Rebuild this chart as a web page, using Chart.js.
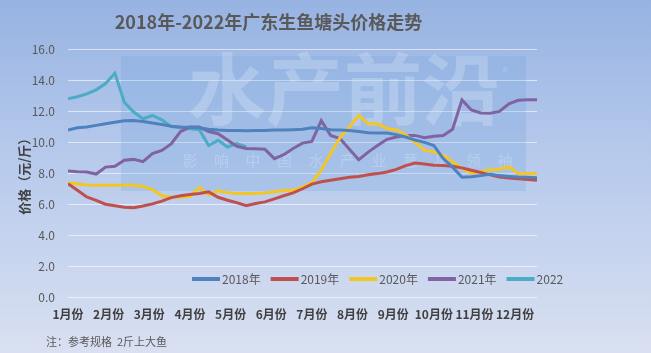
<!DOCTYPE html>
<html>
<head>
<meta charset="utf-8">
<script src="https://cdn.jsdelivr.net/npm/chart.js@4/dist/chart.umd.min.js"></script>
<style>
    html, body { margin: 0; padding: 0; }
    body {
        width: 651px; height: 353px; overflow: hidden;
        background: linear-gradient(to bottom, #97b3e2 0%, #b7caec 45%, #d9e0f1 100%);
    }
    #wrap { position: relative; width: 651px; height: 353px; }
</style>
</head>
<body>
<div id="wrap"><canvas id="priceChart" width="651" height="353"></canvas></div>
<script>
    // weekly prices, 元/斤
    const seriesNames = ['2018年', '2019年', '2020年', '2021年', '2022'];
    const monthLabels = ['1月份', '2月份', '3月份', '4月份', '5月份', '6月份',
                         '7月份', '8月份', '9月份', '10月份', '11月份', '12月份'];
    const yTicks = [0, 2, 4, 6, 8, 10, 12, 14, 16];

    const price2018 = [10.8, 10.95, 11.0, 11.1, 11.2, 11.3, 11.4, 11.42, 11.35, 11.25,
                       11.15, 11.05, 11.0, 10.98, 10.95, 10.85, 10.8, 10.77, 10.77, 10.75,
                       10.77, 10.77, 10.8, 10.8, 10.82, 10.85, 10.95, 10.9, 10.82, 10.8,
                       10.77, 10.7, 10.62, 10.6, 10.6, 10.5, 10.35, 10.15, 10.0, 9.8,
                       8.95, 8.4, 7.75, 7.78, 7.85, 7.94, 7.85, 7.8, 7.76, 7.74, 7.72];
    const price2019 = [7.33, 6.9, 6.47, 6.25, 6.0, 5.9, 5.8, 5.78, 5.88, 6.02,
                       6.2, 6.43, 6.55, 6.63, 6.69, 6.8, 6.45, 6.26, 6.1, 5.9,
                       6.05, 6.15, 6.35, 6.55, 6.73, 7.0, 7.3, 7.45, 7.55, 7.65,
                       7.74, 7.8, 7.9, 7.98, 8.08, 8.25, 8.5, 8.66, 8.6, 8.52,
                       8.5, 8.45, 8.35, 8.2, 8.05, 7.9, 7.76, 7.7, 7.65, 7.6, 7.55];
    const price2020 = [7.37, 7.33, 7.25, 7.23, 7.23, 7.23, 7.23, 7.23, 7.15, 6.95,
                       6.55, 6.45, 6.45, 6.5, 7.1, 6.6, 6.86, 6.75, 6.7, 6.7,
                       6.7, 6.73, 6.8, 6.88, 6.9, 7.1, 7.4, 8.2, 9.3, 10.3,
                       11.0, 11.74, 11.2, 11.2, 10.9, 10.8, 10.5, 10.0, 9.48, 9.4,
                       9.16, 8.75, 8.33, 8.0, 8.1, 8.22, 8.26, 8.41, 7.98, 7.98, 7.98];
    const price2021 = [8.15, 8.1, 8.08, 7.95, 8.4, 8.45, 8.85, 8.9, 8.75, 9.27,
                       9.48, 9.9, 10.7, 10.99, 10.99, 10.7, 10.56, 10.15, 9.75, 9.6,
                       9.58, 9.55, 8.95, 9.2, 9.6, 9.95, 10.06, 11.4, 10.45, 10.25,
                       9.55, 8.88, 9.37, 9.8, 10.2, 10.35, 10.45, 10.45, 10.3, 10.4,
                       10.45, 10.85, 12.75, 12.1, 11.9, 11.89, 12.0, 12.5, 12.72, 12.75, 12.75];
    const price2022 = [12.82, 12.95, 13.14, 13.4, 13.8, 14.47, 12.6, 11.96, 11.53, 11.74,
                       11.46, 11.03, 10.95, 10.88, 10.82, 9.8, 10.13, 9.7, 9.92, 9.7];

    const seriesColors = ['#4f81bd', '#c0504d', '#f3c623', '#8064a2', '#4bacc6'];
    const weeksPerMonth = 52 / 12;
    const fontFamily = '"Noto Sans CJK SC", "Noto Sans", sans-serif';

    const allSeries = [price2018, price2019, price2020, price2021, price2022];

    const overlayPlugin = {
        id: 'overlay',
        beforeDatasetsDraw(chart) {
            const ctx = chart.ctx;
            ctx.save();
            // watermark box
            ctx.fillStyle = 'rgba(105, 160, 220, 0.22)';
            ctx.fillRect(121, 56, 405, 135);
            ctx.fillStyle = 'rgba(255, 255, 255, 0.2)';
            ctx.font = 'bold 78px ' + fontFamily;
            ctx.textAlign = 'center';
            ctx.textBaseline = 'top';
            ctx.fillText('水产前沿', 344, 50);
            ctx.font = '11px ' + fontFamily;
            ctx.fillText('®', 505, 66);
            ctx.font = '15px ' + fontFamily;
            ctx.textBaseline = 'middle';
            '影响中国水产业意见领袖'.split('').forEach((ch, k) => {
                ctx.fillText(ch, 190 + k * 31.5, 160);
            });
            ctx.restore();
        },
        afterDraw(chart) {
            const ctx = chart.ctx;
            ctx.save();
            // legend inside the plot
            ctx.font = '12px ' + fontFamily;
            ctx.textBaseline = 'middle';
            ctx.textAlign = 'left';
            let x = 192;
            const y = 279;
            chart.data.datasets.forEach(ds => {
                ctx.fillStyle = ds.borderColor;
                ctx.fillRect(x, y - 2, 28, 4);
                ctx.fillStyle = '#595959';
                ctx.fillText(ds.label, x + 30, y);
                x += 30 + ctx.measureText(ds.label).width + 10;
            });
            // footnote
            ctx.font = '11px ' + fontFamily;
            ctx.fillStyle = '#595959';
            ctx.fillText('注：参考规格  2斤上大鱼', 46, 342);
            ctx.restore();
        }
    };

    const ctxPrice = document.getElementById('priceChart').getContext('2d');

    new Chart(ctxPrice, {
        type: 'line',
        data: {
            datasets: allSeries.map((arr, k) => ({
                label: seriesNames[k],
                data: arr.map((v, i) => ({ x: i, y: v })),
                borderColor: seriesColors[k],
                backgroundColor: seriesColors[k],
                borderWidth: 3,
                pointRadius: 0,
                tension: 0,
                fill: false
            }))
        },
        options: {
            responsive: false,
            animation: false,
            devicePixelRatio: 1,
            layout: { padding: { left: 0, right: 114, top: 0, bottom: 0 } },
            plugins: {
                legend: { display: false },
                tooltip: { enabled: false },
                title: {
                    display: true,
                    text: '2018年-2022年广东生鱼塘头价格走势',
                    color: '#595959',
                    font: { family: fontFamily, size: 18, weight: 'bold' },
                    padding: { top: 11, bottom: 17 }
                }
            },
            scales: {
                x: {
                    type: 'linear',
                    min: 0,
                    max: price2018.length - 1,
                    afterBuildTicks: scale => {
                        scale.ticks = monthLabels.map((_, m) => ({ value: m * weeksPerMonth }));
                    },
                    afterFit: scale => { scale.height = 56; },
                    ticks: {
                        autoSkip: false,
                        maxRotation: 0,
                        padding: 2,
                        color: '#404040',
                        font: { family: fontFamily, size: 12, weight: 'bold' },
                        callback: (value, index) => monthLabels[index]
                    },
                    grid: { display: false },
                    border: { display: false }
                },
                y: {
                    min: 0,
                    max: 16,
                    afterBuildTicks: scale => {
                        scale.ticks = yTicks.map(v => ({ value: v }));
                    },
                    afterFit: scale => { scale.width = 68; },
                    ticks: {
                        padding: 13,
                        color: '#595959',
                        font: { family: fontFamily, size: 12 },
                        callback: v => Number(v).toFixed(1)
                    },
                    grid: { color: 'rgba(255, 255, 255, 0.6)', drawTicks: false, lineWidth: 1 },
                    border: { display: false },
                    title: {
                        display: true,
                        text: '价格（元/斤）',
                        color: '#404040',
                        font: { family: fontFamily, size: 13, weight: 'bold' },
                        padding: { top: 16, bottom: 0 }
                    }
                }
            }
        },
        plugins: [overlayPlugin]
    });
</script>
</body>
</html>
